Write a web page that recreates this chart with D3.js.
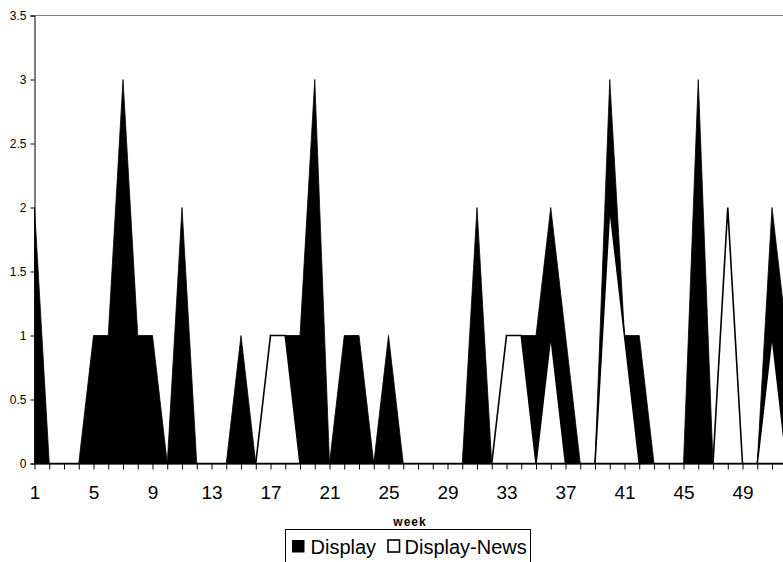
<!DOCTYPE html>
<html>
<head>
<meta charset="utf-8">
<script src="https://cdn.jsdelivr.net/npm/d3@7"></script>
<style>
  html, body { margin: 0; padding: 0; background: #fff; }
  svg { display: block; font-family: "Liberation Sans", Arial, sans-serif; }
</style>
</head>
<body>
<svg id="chart" width="783" height="562"></svg>
<script>
const weeks = d3.range(1, 53);
const display = [2,0,0,0,1,1,3,1,1,0,2,0,0,0,1,0,0,1,1,3,0,1,1,0,1,0,0,0,0,0,2,0,0,1,1,2,1,0,0,3,1,1,0,0,0,3,0,0,0,0,2,1];
const displayNews = [0,0,0,0,0,0,0,0,0,0,0,0,0,0,0,0,1,1,0,0,0,0,0,0,0,0,0,0,0,0,0,0,1,1,0,1,0,0,0,2,1,0,0,0,0,0,0,2,0,0,1,0];
const yTicks = [0, 0.5, 1, 1.5, 2, 2.5, 3, 3.5];
const xLabelWeeks = [1,5,9,13,17,21,25,29,33,37,41,45,49];
const seriesNames = ["Display", "Display-News"];

const svg = d3.select("#chart");
const x0 = 34.5, step = 14.75;
const x = d3.scaleLinear().domain([1, 52]).range([x0, x0 + 51 * step]);
const y = d3.scaleLinear().domain([0, 3.5]).range([463.5, 15.5]);

// top border of plot area
svg.append("line").attr("x1", x0).attr("x2", 783).attr("y1", 15.5).attr("y2", 15.5)
  .attr("stroke", "#808080").attr("stroke-width", 1);

const area = d3.area().x(d => x(d.w)).y0(y(0)).y1(d => y(d.v));
const dataD = weeks.map((w, i) => ({w, v: display[i]}));
const dataN = weeks.map((w, i) => ({w, v: displayNews[i]}));

svg.append("path").datum(dataD).attr("d", area)
  .attr("fill", "#000").attr("stroke", "#000").attr("stroke-width", 0.8);
svg.append("path").datum(dataN).attr("d", area)
  .attr("fill", "#fff").attr("stroke", "#000").attr("stroke-width", 1.6)
  .attr("stroke-linejoin", "miter");

// y axis
const yAxis = d3.axisLeft(y).tickValues(yTicks).tickSize(4).tickPadding(4)
  .tickFormat(d => String(d));
const gy = svg.append("g").attr("transform", `translate(${x0},0)`).call(yAxis);
gy.select(".domain").attr("stroke", "#000");
gy.selectAll(".tick line").attr("stroke", "#000");
gy.selectAll(".tick text").attr("font-size", 12).attr("fill", "#000")
  .attr("font-family", "Liberation Sans, Arial, sans-serif");

// x axis
const xAxis = d3.axisBottom(x).tickValues(weeks).tickSize(6).tickSizeOuter(0)
  .tickFormat(d => xLabelWeeks.includes(d) ? String(d) : "");
const gx = svg.append("g").attr("transform", `translate(0,${y(0)})`).call(xAxis);
gx.select(".domain").attr("stroke", "#000");
gx.selectAll(".tick line").attr("stroke", "#000");
gx.selectAll(".tick text").attr("font-size", 19).attr("fill", "#000")
  .attr("dy", null).attr("y", 35.5)
  .attr("font-family", "Liberation Sans, Arial, sans-serif");

// axis title
svg.append("text").attr("x", 410).attr("y", 525.5).attr("text-anchor", "middle")
  .attr("font-size", 12).attr("font-weight", "bold").attr("letter-spacing", 1)
  .text("week");

// legend
const lg = svg.append("g");
lg.append("rect").attr("x", 285.5).attr("y", 529.5).attr("width", 245).attr("height", 40)
  .attr("fill", "#fff").attr("stroke", "#000").attr("stroke-width", 1);
lg.append("rect").attr("x", 292).attr("y", 540).attr("width", 12.5).attr("height", 12.5)
  .attr("fill", "#000");
lg.append("text").attr("x", 310.5).attr("y", 553.5).attr("font-size", 20).text(seriesNames[0]);
lg.append("rect").attr("x", 388).attr("y", 540).attr("width", 11.5).attr("height", 12)
  .attr("fill", "#fff").attr("stroke", "#000").attr("stroke-width", 1.6);
lg.append("text").attr("x", 404.5).attr("y", 553.5).attr("font-size", 20).text(seriesNames[1]);
</script>
</body>
</html>
